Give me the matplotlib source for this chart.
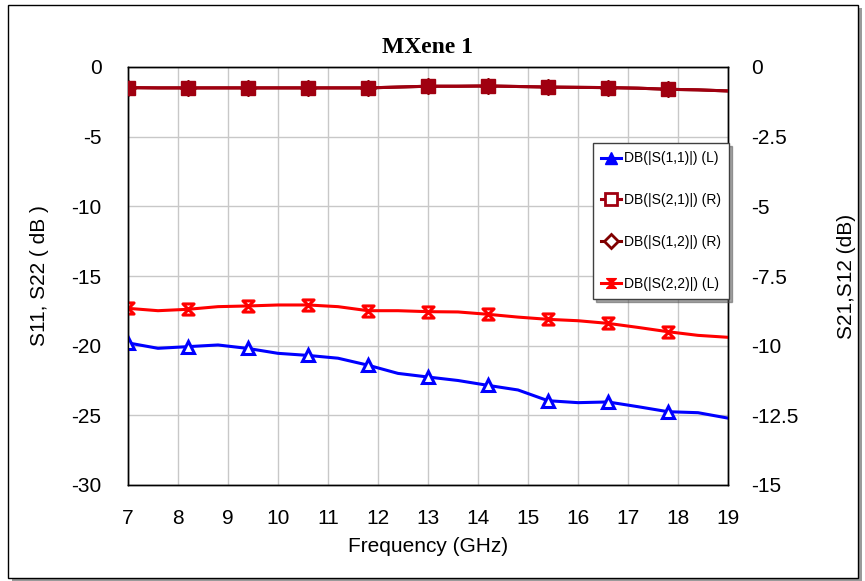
import matplotlib.pyplot as plt
from matplotlib.lines import Line2D
from matplotlib.path import Path
from matplotlib.patches import Rectangle

# Frequency sweep (GHz) and S-parameter magnitudes (dB)
freq = [7.0, 7.6, 8.2, 8.8, 9.4, 10.0, 10.6, 11.2, 11.8, 12.4, 13.0,
        13.6, 14.2, 14.8, 15.4, 16.0, 16.6, 17.2, 17.8, 18.4, 19.0]
s11 = [-19.8, -20.19, -20.07, -19.95, -20.2, -20.55, -20.7, -20.9, -21.4, -21.99, -22.25,
       -22.5, -22.85, -23.18, -23.95, -24.09, -24.04, -24.38, -24.74, -24.81, -25.2]
s22 = [-17.32, -17.49, -17.39, -17.2, -17.15, -17.08, -17.08, -17.2, -17.49, -17.49, -17.56,
       -17.58, -17.75, -17.95, -18.11, -18.21, -18.4, -18.69, -19.0, -19.26, -19.4]
s21 = [-0.74, -0.75, -0.75, -0.75, -0.75, -0.75, -0.75, -0.75, -0.75, -0.72, -0.69,
       -0.69, -0.68, -0.7, -0.72, -0.73, -0.74, -0.76, -0.8, -0.82, -0.86]
s12 = [-0.74, -0.75, -0.75, -0.75, -0.75, -0.75, -0.75, -0.75, -0.75, -0.72, -0.69,
       -0.69, -0.68, -0.7, -0.72, -0.73, -0.74, -0.76, -0.8, -0.82, -0.86]

x_ticks = list(range(7, 20))
left_ticks = [0, -5, -10, -15, -20, -25, -30]
left_labels = ["0", "-5", "-10", "-15", "-20", "-25", "-30"]
right_ticks = [0, -2.5, -5, -7.5, -10, -12.5, -15]
right_labels = ["0", "-2.5", "-5", "-7.5", "-10", "-12.5", "-15"]

names = ["DB(|S(1,1)|) (L)", "DB(|S(2,1)|) (R)", "DB(|S(1,2)|) (R)", "DB(|S(2,2)|) (L)"]

plt.rcParams["font.family"] = ["Liberation Sans", "DejaVu Sans"]

BLUE = "#0000ff"
RED = "#ff0000"
MAROON = "#a00010"
DARK_MAROON = "#800000"

# hourglass marker used for S22
hourglass = Path([(-1, 1), (1, 1), (-1, -1), (1, -1), (-1, 1)],
                 [Path.MOVETO, Path.LINETO, Path.LINETO, Path.LINETO, Path.CLOSEPOLY])

fig = plt.figure(figsize=(8.65, 5.81), dpi=100)
fig.patch.set_facecolor("white")

# outer frame with a drop shadow
fig.patches.append(Rectangle((12 / 865, 1 - 581 / 581), 850 / 865, 573 / 581,
                             transform=fig.transFigure, facecolor="#9a9a9a",
                             edgecolor="none", zorder=-2))
fig.patches.append(Rectangle((8 / 865, 1 - 578 / 581), 850 / 865, 573 / 581,
                             transform=fig.transFigure, facecolor="white",
                             edgecolor="black", linewidth=1.0, zorder=-1))

ax = fig.add_axes([128 / 865, 1 - 485 / 581, 600 / 865, 418 / 581])
ax2 = ax.twinx()

marks = slice(0, 19, 2)

ax.plot(freq, s11, color=BLUE, lw=2.2, marker="^", markevery=marks, ms=9,
        mfc="white", mec=BLUE, mew=2.2, zorder=3)
ax.plot(freq, s22, color=RED, lw=2.2, marker=hourglass, markevery=marks, ms=8,
        mfc="white", mec=RED, mew=2.2, zorder=3)

ax2.plot(freq, s12, color=DARK_MAROON, lw=2.2, marker="D", markevery=marks, ms=8,
         mfc=DARK_MAROON, mec=DARK_MAROON, zorder=2)
ax2.plot(freq, s21, color=MAROON, lw=2.2, marker="s", markevery=marks, ms=10,
         mfc=MAROON, mec=MAROON, zorder=3)

ax.set_xlim(7, 19)
ax.set_ylim(-30, 0)
ax2.set_ylim(-15, 0)

ax.set_xticks(x_ticks)
ax.set_xticklabels([str(t) for t in x_ticks])
ax.set_yticks(left_ticks)
ax.set_yticklabels(left_labels)
ax2.set_yticks(right_ticks)
ax2.set_yticklabels(right_labels)

ax.tick_params(axis="x", length=0, pad=17, labelsize=15)
ax.tick_params(axis="y", length=0, pad=19, labelsize=15)
ax2.tick_params(axis="y", length=0, pad=17, labelsize=15)

ax.grid(True, color="#c8c8c8", lw=1.0)
ax.set_axisbelow(True)
for sp in list(ax.spines.values()) + list(ax2.spines.values()):
    sp.set_color("black")
    sp.set_linewidth(1.0)

ax.set_title("MXene 1", family="Liberation Serif", fontweight="bold",
             fontsize=17, pad=10)
ax.text(0.5, -0.147, "Frequency (GHz)", transform=ax.transAxes,
        ha="center", va="center", fontsize=15)
ax.text(-0.147, 0.5, "S11, S22 ( dB )", transform=ax.transAxes,
        ha="center", va="center", rotation=90, fontsize=15)
ax.text(1.197, 0.5, "S21,S12 (dB)", transform=ax.transAxes,
        ha="center", va="center", rotation=90, fontsize=15)

handles = [
    Line2D([], [], color=BLUE, lw=2.2, marker="^", ms=8, mfc=BLUE, mec=BLUE),
    Line2D([], [], color=MAROON, lw=2.2, marker="s", ms=8, mfc="white", mec=MAROON, mew=2),
    Line2D([], [], color=DARK_MAROON, lw=2.2, marker="D", ms=7, mfc="white",
           mec=DARK_MAROON, mew=2),
    Line2D([], [], color=RED, lw=2.2, marker=hourglass, ms=7, mfc=RED, mec=RED),
]
leg = ax2.legend(handles, names, loc="upper left", bbox_to_anchor=(0.775, 0.818),
                 borderaxespad=0, fontsize=10, handlelength=1.4, handletextpad=0.2,
                 labelspacing=2.0, borderpad=0.6, fancybox=False, shadow=True,
                 framealpha=1, edgecolor="#404040")
leg.get_frame().set_linewidth(1.0)
leg.set_zorder(10)

fig.savefig("out.png", dpi=100)
